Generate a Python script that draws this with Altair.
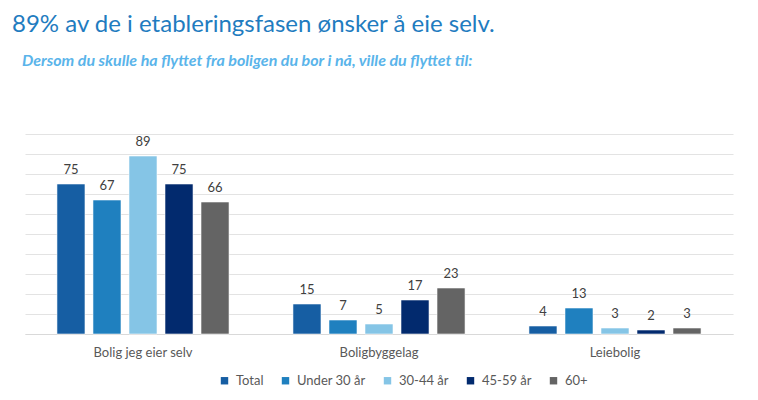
import altair as alt
import pandas as pd

FONT = "Lato"

categories = ["Bolig jeg eier selv", "Boligbyggelag", "Leiebolig"]
groups = ["Total", "Under 30 år", "30-44 år", "45-59 år", "60+"]
total = [75, 15, 4]
under30 = [67, 7, 13]
age30_44 = [89, 5, 3]
age45_59 = [75, 17, 2]
age60 = [66, 23, 3]
colors = ["#165ea3", "#1f80bf", "#85c5e6", "#022a6e", "#646464"]

series = [total, under30, age30_44, age45_59, age60]
rows = []
for g, vals in zip(groups, series):
    for c, v in zip(categories, vals):
        rows.append({"kategori": c, "gruppe": g, "verdi": v})
df = pd.DataFrame(rows)

base = alt.Chart(df).encode(
    x=alt.X(
        "kategori:N",
        sort=categories,
        scale=alt.Scale(paddingInner=0.237, paddingOuter=0.1185),
        axis=alt.Axis(
            title=None, labelAngle=0, ticks=False, domain=True,
            domainColor="#d9d9d9", labelFontSize=13, labelColor="#595959",
            labelPadding=12, labelFont=FONT,
        ),
    ),
    xOffset=alt.XOffset(
        "gruppe:N", sort=groups,
        scale=alt.Scale(paddingInner=0.222, paddingOuter=0.111),
    ),
    y=alt.Y(
        "verdi:Q",
        scale=alt.Scale(domain=[0, 100]),
        axis=alt.Axis(
            title=None, labels=False, ticks=False, domain=False,
            values=list(range(0, 101, 10)), gridColor="#e3e3e3",
        ),
    ),
)

bars = base.mark_bar(stroke="white", strokeWidth=0.8, strokeOpacity=0.7).encode(
    color=alt.Color(
        "gruppe:N",
        sort=groups,
        scale=alt.Scale(domain=groups, range=colors),
        legend=alt.Legend(
            title=None, orient="none", direction="horizontal",
            legendX=193, legendY=240, symbolType="square", symbolSize=55,
            symbolStrokeWidth=0, labelFontSize=13, labelColor="#595959",
            labelFont=FONT, columnPadding=15, labelOffset=5,
        ),
    )
)

labels = base.mark_text(
    baseline="bottom", dy=-7, fontSize=13, color="#404040", font=FONT
).encode(text="verdi:Q")

inner = (bars + labels).properties(
    width=708,
    height=200,
    title=alt.Title(
        "Dersom du skulle ha flyttet fra boligen du bor i nå, ville du flyttet til:",
        anchor="start", dx=-3, fontSize=16, fontStyle="italic",
        fontWeight="bold", color="#5ab4ea", font=FONT, offset=65,
    ),
)

chart = alt.vconcat(inner).properties(
    title=alt.Title(
        "89% av de i etableringsfasen ønsker å eie selv.",
        anchor="start", dx=-10, fontSize=24, color="#1f7cc0",
        fontWeight="normal", font=FONT, offset=16,
    ),
    padding={"left": 4, "top": 5, "right": 5, "bottom": 5},
).configure_view(stroke=None)

chart.save("out.html", embed_options={"renderer": "svg", "actions": False})
